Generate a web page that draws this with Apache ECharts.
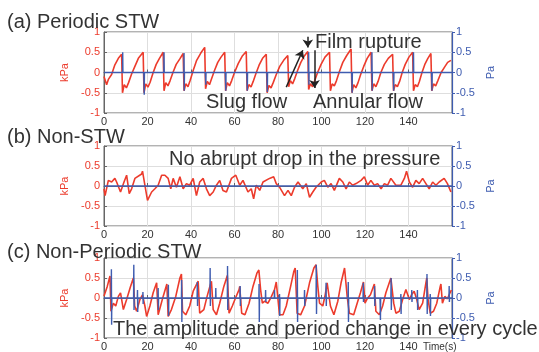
<!DOCTYPE html>
<html>
<head>
<meta charset="utf-8">
<script src="https://cdn.jsdelivr.net/npm/echarts/dist/echarts.min.js"></script>
<style>
  html, body { margin: 0; padding: 0; background: #fff; }
  #chart { width: 539px; height: 352px; }
</style>
</head>
<body>
<div id="chart"></div>
<script>
// (a) periodic STW : pressure drop [time s, kPa]
const periodicKPa = [
  [0,-0.1],[1.2,-0.3],[2,-0.17],[3.5,-0.05],[5,0.19],[6.6,0.35],[8.1,0.45],
  [8.5,-0.5],[9.3,-0.3],[10.3,-0.38],[11.3,-0.25],[12.6,-0.05],[14.2,0.15],[15.8,0.35],[18.0,0.5],
  [18.4,-0.5],[19.2,-0.28],[20.2,-0.36],[21.2,-0.24],[22.5,-0.02],[24,0.2],[25.5,0.35],[27.2,0.5],
  [27.6,-0.45],[28.4,-0.25],[29.4,-0.33],[30.4,-0.2],[31.7,0],[33.2,0.2],[34.8,0.33],[36.4,0.47],
  [36.8,-0.45],[37.6,-0.28],[38.6,-0.35],[39.6,-0.2],[41,0.05],[42.6,0.3],[44.5,0.48],[46.3,0.62],
  [46.7,-0.4],[47.5,-0.22],[48.5,-0.3],[49.5,-0.15],[50.8,0.05],[52.3,0.25],[53.8,0.38],[55.5,0.5],
  [55.9,-0.45],[56.7,-0.25],[57.7,-0.33],[58.7,-0.2],[60,0],[61.7,0.22],[63.5,0.4],[65.4,0.52],
  [65.8,-0.45],[66.6,-0.3],[67.6,-0.36],[68.6,-0.22],[69.9,-0.02],[71.3,0.18],[72.9,0.35],[74.6,0.45],
  [75,-0.5],[75.8,-0.32],[76.8,-0.38],[77.8,-0.25],[79.2,-0.05],[80.8,0.15],[82.6,0.3],[84.5,0.42],
  [84.9,-0.35],[85.7,-0.2],[86.7,-0.28],[87.7,-0.15],[89,0.05],[90.5,0.25],[92,0.4],[93.7,0.52],
  [94.1,-0.42],[94.9,-0.28],[95.9,-0.35],[96.9,-0.2],[98.2,0],[99.8,0.2],[101.6,0.38],[103.7,0.5],
  [104.1,-0.45],[104.9,-0.28],[105.9,-0.33],[106.9,-0.2],[108.2,0.02],[109.8,0.25],[111.6,0.42],[113.6,0.58],
  [114,-0.5],[114.8,-0.3],[115.8,-0.38],[116.8,-0.25],[118,-0.05],[119.4,0.15],[121,0.35],[122.8,0.5],
  [123.2,-0.45],[124,-0.28],[125,-0.35],[126,-0.22],[127.3,0],[128.9,0.2],[130.7,0.35],[132.7,0.45],
  [133.1,-0.45],[133.9,-0.3],[134.9,-0.35],[135.9,-0.22],[137.1,0],[138.5,0.2],[140.2,0.38],[141.9,0.5],
  [142.3,-0.45],[143.1,-0.3],[144.1,-0.35],[145,-0.22],[146.2,0],[147.5,0.2],[148.9,0.35],[150.3,0.47],
  [150.7,-0.45],[151.5,-0.28],[152.5,-0.33],[153.5,-0.2],[155,0],[156.8,0.15],[158,0.25],[159.5,0.3]
];
// (a) film-rupture spikes on the Pa signal: time, top, bottom
const periodicSpikeT    = [8.6, 18.4, 27.6, 36.8, 46.7, 55.9, 65.8, 75.0, 94.1, 114.0, 123.2, 133.1, 142.3, 150.7];
const periodicSpikeUp   = [0.5, 0, 0.5, 0.48, 0, 0, 0, 0, 0.5, 0, 0.5, 0, 0.5, 0];
const periodicSpikeDown = [0, -0.55, 0, -0.45, -0.3, -0.45, -0.45, -0.48, -0.3, -0.5, -0.45, -0.45, 0, -0.45];

// (b) non-STW
const nonStwKPa = [
  [0,-0.07],[0.5,-0.24],[2,0.14],[3.5,0.1],[5,0.19],[5.8,0.1],[7.6,-0.15],[9.2,0.1],[10.4,0.27],[11.6,-0.19],
  [12.7,-0.07],[14.2,0.19],[17.3,0.3],[17.7,0.37],[18.8,0.02],[20,-0.36],[21.9,-0.15],[23.4,-0.07],[24.9,0.02],
  [26.5,0.27],[28,0.27],[29.5,0.19],[30.7,-0.07],[31.8,0.19],[33.3,-0.03],[34.9,0.23],[36.4,-0.07],[37.9,0.06],
  [39.4,0.02],[41,0.19],[42.5,-0.24],[44,0.1],[45.6,0.19],[47.1,-0.07],[48.6,-0.24],[50.2,-0.15],[51.7,0.02],
  [53.2,0.14],[54.7,-0.11],[56.3,-0.15],[58.6,0.19],[60.6,0.27],[62.4,0.02],[63.9,0.14],[66.2,-0.15],[67.7,-0.07],
  [68.8,-0.32],[70,0.02],[71.6,-0.11],[73.1,0.1],[76.1,0.19],[78,0.23],[79.2,0.06],[80.7,-0.03],[81.5,-0.07],
  [83,-0.24],[84.6,-0.11],[86.1,-0.24],[87.6,-0.03],[89.2,0.1],[89.9,0.14],[91.4,-0.07],[93,0.06],[94.5,-0.28],
  [96,-0.15],[97.5,-0.03],[99.9,0.1],[101.3,0.14],[102.9,-0.03],[104.4,0.06],[105.9,-0.11],[108.2,0.19],[109.8,0.1],
  [111.3,-0.07],[112.8,0.1],[114.3,0.02],[115.9,0.06],[118.2,0.14],[119.7,0.23],[121.2,0.02],[122.7,0.14],
  [124.3,0.02],[125.8,0.06],[127.4,-0.07],[128.9,0.06],[130.4,0.02],[131.9,0.19],[134.2,0.02],[136.5,0.02],
  [138.1,0.19],[139.1,0.37],[140.4,0.1],[141.9,-0.03],[143.4,0.14],[144.9,0.06],[146.5,0.19],[148,0.06],
  [149.5,-0.07],[151.1,0.1],[152.6,0.02],[154.1,0.1],[156.4,0.19],[157.9,0.06],[159.5,-0.15]
];
const nonStwPa = [[0,0],[160,0]];

// (c) non-periodic STW
const nonPeriodicKPa = [
  [0,0.05],[1.5,0.29],[2.75,0.55],[3.2,-0.33],[4.3,-0.13],[5.4,-0.2],[6.6,0.04],[7.6,0.13],[8.9,-0.29],
  [10.4,-0.04],[12.2,0.29],[13.5,0.5],[14.1,-0.2],[15,-0.33],[16.5,-0.04],[17.7,0.08],[18.8,-0.2],[19.6,-0.46],
  [21.1,-0.2],[22.6,0.13],[24.2,0.38],[24.9,-0.42],[26,-0.2],[27.2,0.04],[28.9,0.35],[29.5,-0.46],[31,-0.29],
  [33,0.04],[34.9,0.5],[35.6,0.6],[36.1,-0.33],[37.6,-0.42],[39.4,-0.2],[41,0.17],[43.3,0.42],[44,-0.38],
  [45.9,-0.29],[47.4,0.04],[48.9,0.33],[49.4,0.42],[50.2,-0.29],[51.7,-0.42],[53.2,-0.13],[55.1,0.29],[56.7,0.56],
  [57.5,-0.38],[59,-0.2],[60.6,0.02],[62.1,0.21],[62.4,0.29],[63.3,-0.38],[64.8,-0.42],[66.7,-0.13],[68.5,0.29],
  [70.3,0.62],[71.2,0.7],[72,0.21],[72.8,-0.13],[73.9,-0.08],[75.4,-0.13],[77,0.04],[78.4,0.21],[79.2,0.4],
  [80.7,-0.42],[82.3,-0.42],[83.8,-0.2],[85.8,0.29],[87.3,0.67],[87.9,0.75],[88.8,-0.38],[90.4,-0.42],[92.2,-0.2],
  [94.5,0.38],[96.5,0.75],[97.5,0.83],[98.3,0.29],[99.1,-0.13],[100.6,-0.2],[101.7,0.08],[102.6,0.38],[104.1,-0.2],
  [105.7,-0.42],[107.5,-0.08],[109,0.38],[110.6,0.75],[111,0.78],[111.8,0.04],[112.8,-0.38],[114.8,-0.42],
  [116.4,-0.13],[117.9,0.13],[119.3,0.4],[120,-0.13],[121,-0.02],[122.5,0.08],[124.3,0.35],[125,-0.33],
  [126.6,-0.42],[128.1,-0.2],[129.6,0.13],[131.9,0.5],[132.2,0.52],[133.2,-0.13],[134.2,-0.38],[135.8,-0.33],
  [137.3,-0.04],[138.8,0.21],[140.4,-0.04],[141.4,0.08],[142.6,0.17],[143.8,-0.04],[144.9,-0.29],[146.5,-0.13],
  [148,0.38],[148.4,0.5],[149,-0.04],[150,-0.38],[151.5,-0.33],[153,-0.13],[154.6,0.29],[154.9,0.35],
  [155.6,-0.13],[156.7,0.04],[157.9,-0.02],[159.1,0.13],[159.7,0.2]
];
const nonPeriodicSpikeT    = [3.4, 13.7, 15.4, 17.9, 24.9, 29.6, 35.7, 42.9, 48.8, 51.4, 56.8, 62.6, 71.3, 74.3, 78.4, 80.7, 88.9, 92.2, 97.6, 102.1, 112.3, 119.2, 124.4, 127.0, 132.0, 136.5, 141.5, 144.1, 148.5, 150.0, 158.7];
const nonPeriodicSpikeUp   = [0.72, 0.83, 0.2, 0.15, 0.25, 0.33, 0.45, 0.4, 0.75, 0.25, 0.8, 0.3, 0.35, 0.2, 0.2, 0.1, 0.7, 0.2, 0.83, 0.38, 0.4, 0.38, 0.3, 0, 0.5, 0.1, 0.2, 0.2, 0.6, 0.1, 0.3];
const nonPeriodicSpikeDown = [-0.67, -0.3, -0.35, -0.15, -0.3, -0.45, -0.6, -0.2, -0.2, 0, -0.3, -0.2, -0.6, -0.1, 0, -0.45, -0.6, -0.2, -0.4, -0.2, -0.6, -0.1, -0.2, -0.55, -0.3, -0.4, -0.1, -0.3, -0.4, -0.45, -0.1];

const xTicks = [0, 20, 40, 60, 80, 100, 120, 140];

const RED = '#ec3b2c';
const BLUE = '#3e5cb0';
const INK = '#333';

// zero line with a spike at each rupture
function spikeLine(ts, ups, downs) {
  const out = [[0, 0]];
  ts.forEach((t, i) => {
    out.push([t - 0.1, 0], [t, ups[i]], [t + 0.1, downs[i]], [t + 0.2, 0]);
  });
  out.push([160, 0]);
  return out;
}

const panels = [
  { top: 32, height: 81, kpa: periodicKPa, pa: spikeLine(periodicSpikeT, periodicSpikeUp, periodicSpikeDown) },
  { top: 146, height: 80, kpa: nonStwKPa, pa: nonStwPa },
  { top: 258, height: 82, kpa: nonPeriodicKPa, pa: spikeLine(nonPeriodicSpikeT, nonPeriodicSpikeUp, nonPeriodicSpikeDown) },
];

const chart = echarts.init(document.getElementById('chart'));

const grid = [], xAxis = [], yAxis = [], series = [];
panels.forEach((p, i) => {
  grid.push({ left: 104, width: 348, top: p.top, height: p.height, show: true, borderColor: '#666', borderWidth: 1 });
  xAxis.push({
    gridIndex: i, type: 'value', min: 0, max: 160, interval: 20,
    axisLine: { show: true, lineStyle: { color: '#666' } },
    axisTick: { show: true, inside: true, length: 3, lineStyle: { color: '#666' } },
    axisLabel: {
      color: INK, fontSize: 11, margin: 3, showMaxLabel: false,
      formatter: (v) => (xTicks.includes(v) ? String(v) : '')
    },
    splitLine: { show: true, lineStyle: { color: '#dedede' } }
  });
  yAxis.push({
    gridIndex: i, type: 'value', min: -1, max: 1, interval: 0.5, position: 'left',
    name: 'kPa', nameLocation: 'middle', nameRotate: 90, nameGap: 18,
    nameTextStyle: { color: RED, fontSize: 11 },
    axisLine: { show: true, lineStyle: { color: '#666' } },
    axisTick: { show: true, inside: true, length: 3, lineStyle: { color: '#666' } },
    axisLabel: { color: RED, fontSize: 11, margin: 4 },
    splitLine: { show: true, lineStyle: { color: '#dedede' } }
  });
  yAxis.push({
    gridIndex: i, type: 'value', min: -1, max: 1, interval: 0.5, position: 'right',
    name: 'Pa', nameLocation: 'middle', nameRotate: 90, nameGap: 19,
    nameTextStyle: { color: BLUE, fontSize: 11 },
    axisLine: { show: true, lineStyle: { color: BLUE, width: 1.2 } },
    axisTick: { show: true, inside: false, length: 3, lineStyle: { color: BLUE } },
    axisLabel: { color: BLUE, fontSize: 11, margin: 4 },
    splitLine: { show: false }
  });
  series.push({
    type: 'line', xAxisIndex: i, yAxisIndex: 2 * i, data: p.kpa,
    showSymbol: false, silent: true, z: 3,
    lineStyle: { color: RED, width: 1.6 }
  });
  series.push({
    type: 'line', xAxisIndex: i, yAxisIndex: 2 * i + 1, data: p.pa,
    showSymbol: false, silent: true, z: 4,
    lineStyle: { color: BLUE, width: 1.4 }
  });
});

// arrows pointing at the rupture in panel (a)
series[0].markLine = {
  silent: true, symbol: ['none', 'arrow'], symbolSize: 8,
  label: { show: false },
  lineStyle: { color: '#222', width: 1.5, type: 'solid' },
  data: [
    [{ coord: [83.8, -0.36] }, { coord: [91.4, 0.55] }],
    [{ coord: [93.7, 0.88] }, { coord: [93.7, 0.62] }],
    [{ coord: [96.8, 0.55] }, { coord: [96.8, -0.38] }]
  ]
};

const label = (x, y, text, size) => ({
  type: 'text', x, y, z: 100,
  style: { text, fill: INK, font: (size || 20) + 'px "Liberation Sans", Arial, sans-serif', verticalAlign: 'middle', align: 'left' }
});

chart.setOption({
  animation: false,
  backgroundColor: '#fff',
  grid, xAxis, yAxis, series,
  graphic: [
    label(7, 22.5, '(a) Periodic STW'),
    label(7, 137.5, '(b) Non-STW'),
    label(7, 252, '(c) Non-Periodic STW'),
    label(315, 42.5, 'Film rupture'),
    label(206, 102.5, 'Slug flow'),
    label(313, 102.5, 'Annular flow'),
    label(169, 159.5, 'No abrupt drop in the pressure'),
    label(113, 329.5, 'The amplitude and period change in every cycle'),
    label(423, 347, 'Time(s)', 10)
  ]
});
</script>
</body>
</html>
